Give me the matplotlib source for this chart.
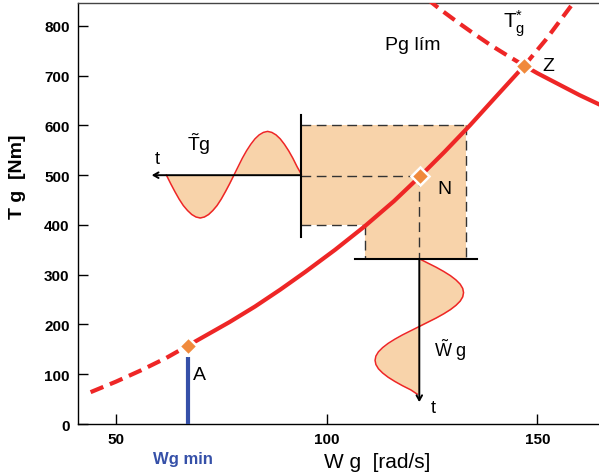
import matplotlib.pyplot as plt
from matplotlib.transforms import blended_transform_factory

plt.rcParams['font.family'] = ['Liberation Sans', 'DejaVu Sans']
plt.rcParams['mathtext.fontset'] = 'custom'
plt.rcParams['mathtext.rm'] = 'Liberation Sans'
plt.rcParams['mathtext.it'] = 'Liberation Sans:italic'
plt.rcParams['mathtext.bf'] = 'Liberation Sans:bold'

# operating curve Tg(Wg)
W_curve = [44, 50, 56, 62, 67, 72, 77, 83, 89, 95, 102, 109, 116, 122.2, 128, 134, 140, 146.9, 152, 158]
T_curve = [64, 85, 108, 133, 157, 181, 205, 236, 270, 306, 350, 397, 448, 498, 547, 600, 656, 720, 772, 840]

# power limit curve (Pg lim)
W_plim = [123, 127, 131, 135, 139, 143, 146.9, 150, 155, 160, 165]
T_plim = [860, 833, 808, 784, 761, 740, 720, 705, 683, 661, 641]

# marked points
pt_names = ['A', 'N', 'Z']
pt_W = [67, 122.2, 146.9]
pt_T = [157, 498, 720]

# torque ripple around N (drawn along a horizontal time axis)
tg_w = list(range(62, 95))
tg_t = [500, 483, 467, 452, 439, 429, 421, 416, 414, 416, 421, 429, 439, 452, 467, 483, 500,
        517, 534, 549, 562, 573, 581, 586, 588, 586, 581, 573, 562, 549, 534, 517, 502]

# speed ripple around N (drawn along a vertical time axis)
wg_t = [332, 323.5, 315, 306.5, 298, 289.5, 281, 272.5, 264, 255.5, 247, 238.5, 230, 221.5, 213, 204.5, 196,
        187.5, 179, 170.5, 162, 153.5, 145, 136.5, 128, 119.5, 111, 102.5, 94, 85.5, 77, 68.5, 60]
wg_w = [122, 124, 126, 127.8, 129.4, 130.7, 131.7, 132.3, 132.5, 132.3, 131.7, 130.7, 129.4, 127.8, 126, 124, 122,
        120, 118, 116.2, 114.6, 113.3, 112.3, 111.7, 111.5, 111.7, 112.3, 113.3, 114.6, 116.2, 118, 120, 121.5]

# ripple box limits
T_lo, T_hi = 400, 600
W_lo, W_hi = 109, 133
W_min = 67

RED = '#ee2626'
PEACH = '#f8d3aa'
ORANGE = '#f08a3c'
BLUE = '#3550a8'
DASH = '#333333'

fig = plt.figure(figsize=(5.99, 4.77), dpi=100)
ax = fig.add_axes([0.130, 0.109, 0.870, 0.8826])

# shaded box
ax.fill([93.9, W_hi, W_hi, W_lo, W_lo, 93.9], [T_hi, T_hi, 332, 332, T_lo, T_lo],
        color=PEACH, lw=0, zorder=1)
dkw = dict(color=DASH, lw=1.0, dashes=(7, 4), zorder=2)
ax.plot([93.9, W_hi], [T_hi, T_hi], **dkw)
ax.plot([W_hi, W_hi], [T_hi, 332], **dkw)
ax.plot([93.9, W_lo], [T_lo, T_lo], **dkw)
ax.plot([W_lo, W_lo], [T_lo, 332], **dkw)
ax.plot([93.9, pt_W[1]], [pt_T[1], pt_T[1]], **dkw)
ax.plot([122, 122], [pt_T[1], 332], **dkw)

# ripple waves
ax.fill_between(tg_w, 500, tg_t, color=PEACH, lw=0, zorder=1)
ax.plot(tg_w, tg_t, color=RED, lw=1.1, zorder=2)
ax.fill_betweenx(wg_t, 122, wg_w, color=PEACH, lw=0, zorder=1)
ax.plot(wg_w, wg_t, color=RED, lw=1.1, zorder=2)

# black construction lines and time axes
ax.plot([93.9, 93.9], [376, 620], color='k', lw=1.5, zorder=3)
ax.plot([106.7, 135.7], [332, 332], color='k', lw=1.5, zorder=3)
akw = dict(arrowstyle='->,head_length=0.35,head_width=0.2', lw=1.4, color='k', shrinkA=0, shrinkB=0)
ax.annotate('', xy=(58.5, 500), xytext=(93.9, 500), arrowprops=akw, zorder=3)
ax.annotate('', xy=(122, 44), xytext=(122, 332), arrowprops=akw, zorder=3)

# main curve: dashed below A, solid A..Z, dashed above Z
ia = W_curve.index(67)
iz = W_curve.index(146.9)
ckw = dict(color=RED, lw=3.0, zorder=4, solid_capstyle='butt', dash_capstyle='butt')
ax.plot(W_curve[:ia + 1], T_curve[:ia + 1], dashes=(3.3, 1.7), **ckw)
ax.plot(W_curve[ia:iz + 1], T_curve[ia:iz + 1], **ckw)
ax.plot(W_curve[iz:], T_curve[iz:], dashes=(3.3, 1.7), **ckw)

jz = W_plim.index(146.9)
ax.plot(W_plim[:jz + 1], T_plim[:jz + 1], dashes=(3.3, 1.7), **ckw)
ax.plot(W_plim[jz:], T_plim[jz:], **ckw)

# Wg min line
ax.plot([W_min, W_min], [0, 134], color=BLUE, lw=3.0, solid_capstyle='butt', zorder=4)

# points
ax.plot(pt_W, pt_T, 'D', color=ORANGE, ms=9, mec='white', mew=1.8, zorder=6, clip_on=False)

# labels on the drawing
ax.text(69.9, 100, 'A', fontsize=14, ha='center', va='center')
ax.text(128, 474, 'N', fontsize=14, ha='center', va='center')
ax.text(152.5, 720, 'Z', fontsize=14, ha='center', va='center')
ax.text(113.9, 762, 'Pg lím', fontsize=14, ha='left', va='center')
ax.text(144.5, 806, r'$\mathrm{T}_{\mathrm{g}}^{*}$', fontsize=15, ha='center', va='center')
ax.text(69.7, 565, r'$\tilde{\mathrm{T}}\mathrm{g}$', fontsize=14, ha='center', va='center')
ax.text(129.3, 150, r'$\tilde{\mathrm{W}}\ \mathrm{g}$', fontsize=13, ha='center', va='center')
ax.text(59.7, 533, 't', fontsize=13, ha='center', va='center')
ax.text(125.3, 34, 't', fontsize=13, ha='center', va='center')

# axes
ax.set_xlim(40.98, 164.64)
ax.set_ylim(0, 846)
ax.spines['right'].set_visible(False)
ax.spines['top'].set_color('#444444')
for s in ['left', 'bottom', 'top']:
    ax.spines[s].set_linewidth(1.0)
ax.set_xticks([50, 100, 150])
ax.set_yticks(range(0, 801, 100))
ax.tick_params(direction='in', length=7, width=1, labelsize=11, pad=6)
for lbl in ax.get_xticklabels() + ax.get_yticklabels():
    lbl.set_fontweight('bold')

ax.text(-0.115, 0.59, 'T g  [Nm]', rotation=90, fontsize=14, fontweight='bold',
        ha='center', va='center', transform=ax.transAxes)
ax.text(0.574, -0.088, 'W g  [rad/s]', fontsize=15, ha='center', va='center',
        transform=ax.transAxes)
trans = blended_transform_factory(ax.transData, ax.transAxes)
ax.text(W_min - 1, -0.083, 'Wg min', fontsize=12, fontweight='bold', color=BLUE,
        ha='center', va='center', transform=trans)

fig.savefig('out.png', dpi=100)
